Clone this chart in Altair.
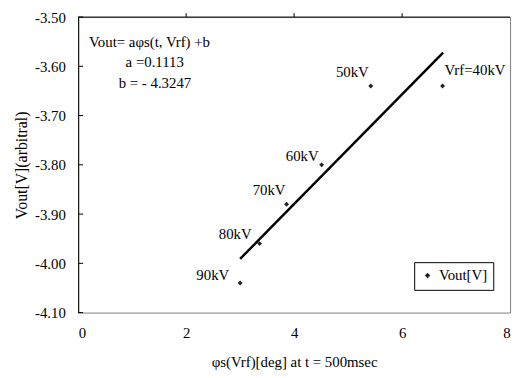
import altair as alt
import pandas as pd

# data
phi = [6.75, 5.42, 4.51, 3.86, 3.36, 3.00]
vout = [-3.64, -3.64, -3.80, -3.88, -3.96, -4.04]
point_labels = ["Vrf=40kV", "50kV", "60kV", "70kV", "80kV", "90kV"]
fit_x = [3.00, 6.76]
fit_y = [-3.991, -3.572]
y_ticks = [-3.5, -3.6, -3.7, -3.8, -3.9, -4.0, -4.1]
x_ticks = [0, 2, 4, 6, 8]
eq_lines = ["Vout= aφs(t, Vrf) +b", "a =0.1113", "b = - 4.3247"]

FONT = "Liberation Serif"
FS = 15
W, H = 437, 299

pts = pd.DataFrame({"phi": phi, "vout": vout, "label": point_labels, "series": "Vout[V]"})
fit = pd.DataFrame({"phi": fit_x, "vout": fit_y})

xs = alt.Scale(domain=[0, 8], nice=False, zero=False)
ys = alt.Scale(domain=[-4.1, -3.5], nice=False, zero=False)

x_axis = alt.Axis(values=x_ticks, format="d", ticks=False, domain=False, grid=False,
                  labelPadding=13, title="φs(Vrf)[deg] at t = 500msec", titlePadding=15,
                  labelFont=FONT, titleFont=FONT, labelFontSize=FS, titleFontSize=FS,
                  labelColor="black", titleColor="black", titleFontWeight="normal")
y_axis = alt.Axis(values=y_ticks, ticks=False, domain=True, domainColor="black",
                  labelExpr="replace(format(datum.value, '.2f'), '\u2212', '-')",
                  domainWidth=1, grid=False, labelPadding=13, title="Vout[V](arbitral)",
                  titlePadding=5, labelFont=FONT, titleFont=FONT, labelFontSize=FS,
                  titleFontSize=16, labelColor="black", titleColor="black",
                  titleFontWeight="normal")

X = alt.X("phi:Q", scale=xs, axis=x_axis)
Y = alt.Y("vout:Q", scale=ys, axis=y_axis)

base_pts = alt.Chart(pts)

points = base_pts.mark_point(shape="diamond", filled=True, size=24, opacity=1).encode(
    x=X,
    y=Y,
    color=alt.Color("series:N", scale=alt.Scale(range=["#222222"]),
                    legend=alt.Legend(title=None, orient="none", legendX=340, legendY=248,
                                      symbolType="diamond", symbolSize=30,
                                      strokeColor="black", fillColor="white",
                                      padding=6, labelFont=FONT, labelFontSize=FS,
                                      labelColor="black", symbolFillColor="#222222")),
)

line = alt.Chart(fit).mark_line(color="black", strokeWidth=2.5).encode(x=X, y=Y)

label_style = {
    "Vrf=40kV": ("left", 2, -16),
    "50kV": ("right", -2, -14),
    "60kV": ("right", -3, -9),
    "70kV": ("right", -1, -14),
    "80kV": ("right", -8, -10),
    "90kV": ("right", -11, -8),
}
label_layers = []
for lab, (al, dx, dy) in label_style.items():
    label_layers.append(
        base_pts.transform_filter(alt.datum.label == lab).mark_text(
            align=al, baseline="middle", dx=dx, dy=dy, font=FONT, fontSize=FS, color="black"
        ).encode(x=X, y=Y, text="label:N")
    )

eq_pos = [(11, 25), (48, 46), (41, 67)]
eq_layers = []
for txt, (px, py) in zip(eq_lines, eq_pos):
    eq_layers.append(
        alt.Chart(pd.DataFrame({"t": [txt]})).mark_text(
            align="left", baseline="middle", font=FONT, fontSize=FS, color="black"
        ).encode(x=alt.value(px), y=alt.value(py), text="t:N")
    )

ytick_df = pd.DataFrame({"vout": y_ticks})
yticks = alt.Chart(ytick_df).mark_rule(color="black", strokeWidth=1).encode(
    y=Y, x=alt.value(0), x2=alt.value(5),
)

xtick_df = pd.DataFrame({"phi": x_ticks[1:-1]})
xticks = alt.Chart(xtick_df).mark_rule(color="black", strokeWidth=1).encode(
    x=X, y=alt.value(-4), y2=alt.value(0),
)

top_border = alt.Chart(pd.DataFrame({"a": [0]})).mark_rule(color="black", strokeWidth=1).encode(
    x=alt.value(0), x2=alt.value(W), y=alt.value(0)
)

chart = alt.layer(
    points, line, *label_layers, *eq_layers, yticks, xticks, top_border
).properties(
    width=W, height=H,
    autosize=alt.AutoSizeParams(type="none"),
    padding={"left": 71, "top": 7, "right": 5, "bottom": 62},
    background="white",
).configure_view(
    stroke="#808080", strokeWidth=1
)

chart.save("out.html", embed_options={"renderer": "svg", "actions": False})
